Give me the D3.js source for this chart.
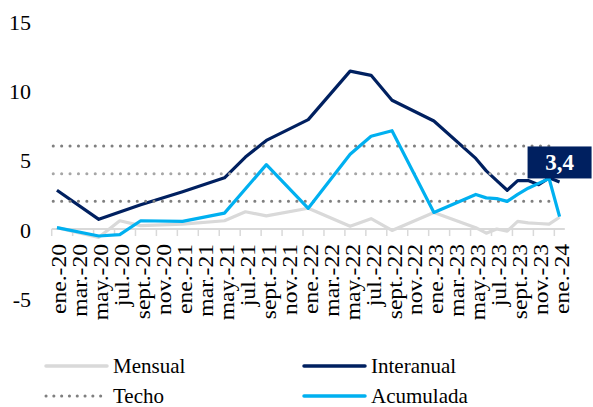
<!DOCTYPE html>
<html><head><meta charset="utf-8">
<script src="https://cdn.jsdelivr.net/npm/d3@7"></script>
<style>
html,body{margin:0;padding:0;background:#fff;}
svg{display:block;}
svg text{font-family:"Liberation Serif","Times New Roman",serif;}
</style></head>
<body>
<svg id="chart" width="593" height="407"></svg>
<script>
// ---- data ----
const monthNames = ["ene.","feb.","mar.","abr.","may.","jun.","jul.","ago.","sept.","oct.","nov.","dic."];
const years = ["20","21","22","23","24"];
const months = [];
years.forEach(y => monthNames.forEach(m => { if (months.length < 49) months.push(m + "-" + y); }));

// values per month (null = no point in the source series)
const mensual = [0.1,null,null,null,-0.6,null,0.6,null,0.25,null,null,null,
  0.35,null,null,null,0.6,null,1.25,null,0.95,null,null,null,
  1.5,null,null,null,0.2,null,0.75,null,-0.1,null,null,null,
  1.2,null,null,null,0.1,-0.3,0.0,-0.15,0.55,0.45,0.4,0.35,0.85];
const interanual = [2.8,null,null,null,0.7,null,null,null,1.75,null,null,null,
  2.7,null,null,null,3.7,null,5.2,null,6.4,null,null,null,
  7.9,null,null,null,11.4,null,11.1,null,9.3,null,null,null,
  7.8,null,null,null,5.1,4.2,3.5,2.8,3.5,3.5,3.2,3.7,3.4];
const acumulada = [0.1,null,null,null,-0.5,null,-0.4,null,0.6,null,null,null,
  0.55,null,null,null,1.15,null,null,null,4.65,null,null,null,
  1.5,null,null,null,5.4,null,6.7,null,7.1,null,null,null,
  1.2,null,null,null,2.5,2.25,2.2,2.0,2.5,2.95,3.3,3.65,0.9];
const bandas = [6, 4, 2];
const yTicks = [-5, 0, 5, 10, 15];
const lastLabel = "3,4";

// ---- scales ----
const svg = d3.select("#chart");
const x = d3.scaleBand().domain(months).range([51.7, 564.8]).padding(0);
const cx = m => x(m) + x.bandwidth() / 2;
const y = d3.scaleLinear().domain([-5, 15]).range([298.3, 21.3]);

// y tick labels
svg.append("g").selectAll("text").data(yTicks).join("text")
  .attr("x", 31).attr("y", d => y(d) + 1)
  .attr("text-anchor", "end").attr("dominant-baseline", "central")
  .attr("font-size", 22).attr("fill", "#000")
  .text(d => d);

// zero axis with tick marks
const axisG = svg.append("g");
axisG.append("line").attr("x1", x.range()[0]).attr("x2", x.range()[1])
  .attr("y1", y(0)).attr("y2", y(0)).attr("stroke", "#D9D9D9").attr("stroke-width", 2);
axisG.selectAll("line.tick").data(months.filter((m, i) => i % 2 === 0)).join("line")
  .attr("class", "tick")
  .attr("x1", d => x(d)).attr("x2", d => x(d))
  .attr("y1", y(0)).attr("y2", y(0) + 7)
  .attr("stroke", "#D9D9D9").attr("stroke-width", 1.5);

// x labels
svg.append("g").selectAll("text").data(months.filter((m, i) => i % 2 === 0)).join("text")
  .attr("transform", d => `translate(${cx(d) + 9.5},244) rotate(-90) scale(1.15,1)`)
  .attr("text-anchor", "end")
  .attr("font-size", 20.5).attr("fill", "#000")
  .text(d => d);

function pts(arr) {
  return arr.map((v, i) => ({m: months[i], v})).filter(d => d.v !== null);
}
const line = d3.line().x(d => cx(d.m)).y(d => y(d.v));

// Mensual
svg.append("path").datum(pts(mensual)).attr("d", line)
  .attr("fill", "none").attr("stroke", "#D9D9D9").attr("stroke-width", 3.2)
  .attr("stroke-linejoin", "round");
// Interanual
svg.append("path").datum(pts(interanual)).attr("d", line)
  .attr("fill", "none").attr("stroke", "#002060").attr("stroke-width", 3.2)
  .attr("stroke-linejoin", "round");
// Techo / bands
svg.append("g").selectAll("line").data(bandas).join("line")
  .attr("x1", x(months[0]) + 1.5).attr("x2", cx(months[47]) + 5)
  .attr("y1", d => y(d)).attr("y2", d => y(d))
  .attr("stroke", (d, i) => i === 1 ? "#A6A6A6" : "#7F7F7F")
  .attr("stroke-width", 3).attr("stroke-linecap", "round")
  .attr("stroke-dasharray", "0.1 8.3");
// Acumulada
svg.append("path").datum(pts(acumulada)).attr("d", line)
  .attr("fill", "none").attr("stroke", "#00B0F0").attr("stroke-width", 3.2)
  .attr("stroke-linejoin", "round");

// data label for last Interanual value
const lastM = months[months.length - 1];
const lastV = interanual[interanual.length - 1];
const lbl = svg.append("g").attr("transform", `translate(${cx(lastM)},${y(lastV) - 3.5})`);
lbl.append("rect").attr("x", -32).attr("y", -32).attr("width", 64).attr("height", 32).attr("fill", "#002060");
lbl.append("text").attr("x", 0).attr("y", -16).attr("text-anchor", "middle")
  .attr("dominant-baseline", "central").attr("font-size", 23).attr("font-weight", "bold")
  .attr("fill", "#fff").text(lastLabel);

// legend
const legendItems = [
  {name: "Mensual", color: "#D9D9D9", dash: null, col: 0, row: 0},
  {name: "Interanual", color: "#002060", dash: null, col: 1, row: 0},
  {name: "Techo", color: "#7F7F7F", dash: "0.1 7.7", col: 0, row: 1},
  {name: "Acumulada", color: "#00B0F0", dash: null, col: 1, row: 1}
];
const legX = [46, 304], legY = [366, 396];
const lg = svg.append("g").selectAll("g").data(legendItems).join("g")
  .attr("transform", d => `translate(${legX[d.col]},${legY[d.row]})`);
lg.append("line").attr("x1", 0).attr("x2", 61).attr("y1", 0).attr("y2", 0)
  .attr("stroke", d => d.color).attr("stroke-width", d => d.dash ? 3 : 3.5)
  .attr("stroke-linecap", "round")
  .attr("stroke-dasharray", d => d.dash);
lg.append("text").attr("x", 67).attr("y", 0).attr("dominant-baseline", "central")
  .attr("font-size", 21).attr("fill", "#000")
  .text(d => d.name);
</script>
</body></html>
